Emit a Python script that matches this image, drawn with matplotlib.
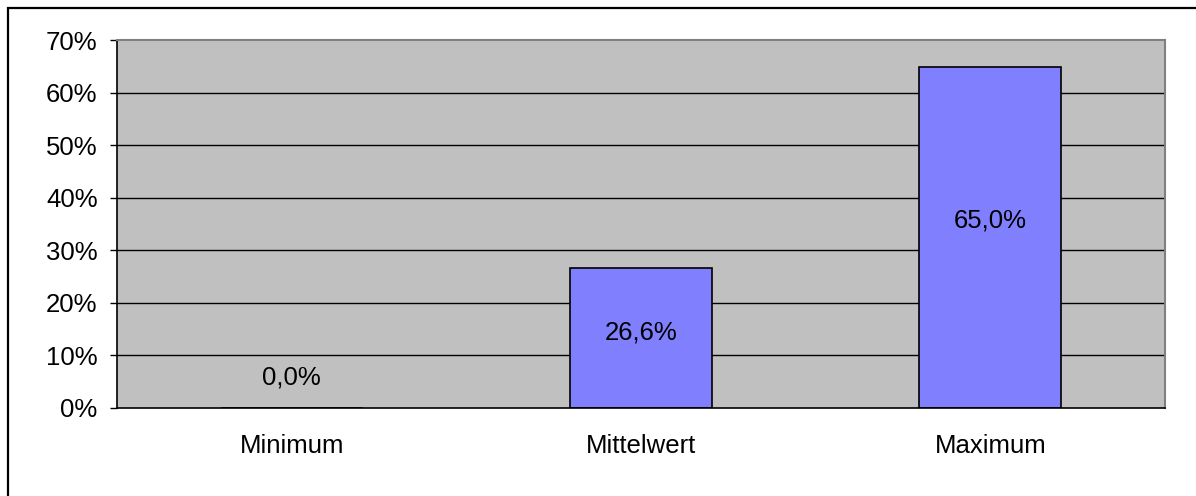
import matplotlib
matplotlib.use("Agg")
import matplotlib.pyplot as plt
from matplotlib.patches import Rectangle
from matplotlib.ticker import MultipleLocator, FuncFormatter

categories = ["Minimum", "Mittelwert", "Maximum"]
values = [0.0, 26.6, 65.0]
value_labels = ["0,0%", "26,6%", "65,0%"]
# vertical placement of value labels (data units, %), as in the reference
label_y = [5.7, 14.3, 35.6]

plt.rcParams['font.family'] = ['Liberation Sans', 'DejaVu Sans']
FS = 18.5

fig = plt.figure(figsize=(11.96, 4.96), dpi=100)
fig.patch.set_facecolor("white")

# outer chart frame (extends beyond right/bottom edges)
frame = Rectangle((7.5 / 1196, -0.1), 1.2, 1 - 7.5 / 496 + 0.1,
                  transform=fig.transFigure, fill=False, edgecolor="black",
                  linewidth=1.6, zorder=0)
fig.add_artist(frame)

ax = fig.add_axes([117 / 1196, 1 - 407.7 / 496, (1165 - 117) / 1196, (407.7 - 40.5) / 496])
ax.set_facecolor("#C0C0C0")

x = range(len(categories))
ax.bar(x, values, width=0.407, color="#8080FF", edgecolor="black", linewidth=1.2, zorder=3)

ax.set_xlim(-0.5, len(categories) - 0.5)
ax.set_ylim(0, 70)
ax.yaxis.set_major_locator(MultipleLocator(10))
ax.yaxis.set_major_formatter(FuncFormatter(lambda v, p: f"{int(round(v))}%"))

for yv in range(10, 70, 10):
    ax.axhline(yv, color="black", linewidth=1.0, zorder=1)

ax.set_xticks(list(x))
ax.set_xticklabels(categories, fontsize=FS)
ax.tick_params(axis="x", length=0, pad=19)
ax.tick_params(axis="y", length=5, width=1.0, pad=9, labelsize=FS, direction="out")

for sp in ["top", "right"]:
    ax.spines[sp].set_color("#808080")
    ax.spines[sp].set_linewidth(1.5)
for sp in ["left", "bottom"]:
    ax.spines[sp].set_color("black")
    ax.spines[sp].set_linewidth(1.2)
ax.spines["bottom"].set_zorder(4)

for xi, ly, lab in zip(x, label_y, value_labels):
    ax.text(xi, ly, lab, ha="center", va="center", fontsize=FS, zorder=5)

fig.savefig("out.png", dpi=100)
